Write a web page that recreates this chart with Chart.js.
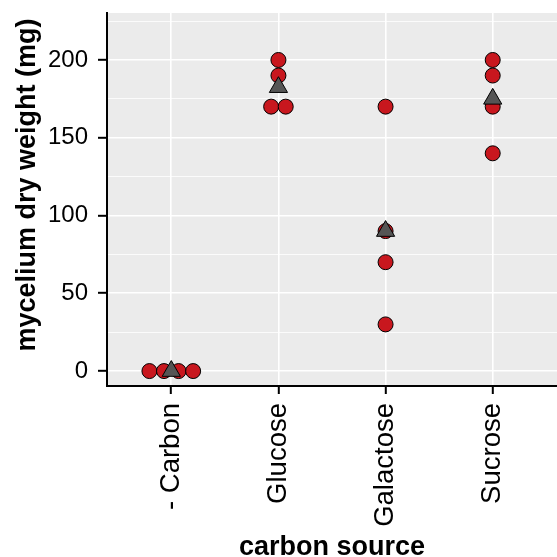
<!DOCTYPE html>
<html>
<head>
<meta charset="utf-8">
<script src="https://cdn.jsdelivr.net/npm/chart.js@4"></script>
<style>
  html, body { margin: 0; padding: 0; background: #fff; }
  #wrap { width: 557px; height: 557px; }
</style>
</head>
<body>
<div id="wrap"><canvas id="graph"></canvas></div>
<script>
const categories = ['- Carbon', 'Glucose', 'Galactose', 'Sucrose'];
const carbonFree = [0, 0, 0, 0];
const glucose = [200, 190, 170, 170];
const galactose = [170, 90, 70, 30];
const sucrose = [200, 190, 170, 140];
const yTicks = [0, 50, 100, 150, 200];

const groups = [carbonFree, glucose, galactose, sucrose];

// spread repeated values side by side, like the dot stacking in the original
function spread(values, idx) {
  const out = [];
  const seen = {};
  values.forEach(v => { seen[v] = (seen[v] || 0) + 1; });
  const used = {};
  values.forEach(v => {
    const n = seen[v];
    const k = used[v] || 0;
    used[v] = k + 1;
    out.push({ x: idx + (k - (n - 1) / 2) * 0.136, y: v });
  });
  return out;
}

const points = [];
groups.forEach((g, i) => points.push(...spread(g, i)));
const means = groups.map((g, i) => ({ x: i, y: g.reduce((a, b) => a + b, 0) / g.length }));

const font = "'Liberation Sans', Arial, sans-serif";

const panelBg = {
  id: 'panelBg',
  beforeDraw(chart) {
    const a = chart.chartArea;
    const ctx = chart.ctx;
    ctx.save();
    ctx.fillStyle = '#ebebeb';
    ctx.fillRect(a.left, a.top, a.right - a.left, a.bottom - a.top);
    ctx.restore();
  },
  afterDraw(chart) {
    // y title, placed like the ggplot original
    const ctx = chart.ctx;
    ctx.save();
    ctx.translate(28, 185);
    ctx.rotate(-Math.PI / 2);
    ctx.font = 'bold 27px ' + font;
    ctx.fillStyle = '#000';
    ctx.textAlign = 'center';
    ctx.textBaseline = 'middle';
    ctx.fillText('mycelium dry weight (mg)', 0, 0);
    ctx.restore();
  }
};

const config = {
  type: 'scatter',
  data: {
    datasets: [
      {
        label: 'mean',
        data: means,
        pointStyle: 'triangle',
        pointRadius: 10.5,
        pointHoverRadius: 10.5,
        backgroundColor: '#555555',
        borderColor: '#000000',
        borderWidth: 1,
        order: 0
      },
      {
        label: 'replicates',
        data: points,
        pointStyle: 'circle',
        pointRadius: 7.5,
        pointHoverRadius: 7.5,
        backgroundColor: '#c8171e',
        borderColor: '#000000',
        borderWidth: 1,
        order: 1
      }
    ]
  },
  options: {
    responsive: true,
    maintainAspectRatio: false,
    animation: false,
    layout: { autoPadding: false, padding: { top: 13, left: 0, right: 0, bottom: 0 } },
    plugins: { legend: { display: false }, tooltip: { enabled: false } },
    scales: {
      x: {
        type: 'linear',
        min: -0.6,
        max: 3.6,
        afterBuildTicks: s => { s.ticks = categories.map((c, i) => ({ value: i })); },
        afterFit: s => { s.height = 171; s.paddingLeft = 0; s.paddingRight = 0; },
        border: { display: true, color: '#000', width: 2 },
        grid: { color: '#ffffff', lineWidth: 1.6, tickLength: 8, tickColor: '#000', tickWidth: 2 },
        ticks: {
          callback: v => categories[v],
          maxRotation: 90,
          minRotation: 90,
          padding: 9,
          color: '#000',
          font: { family: font, size: 27.5 }
        },
        title: {
          display: true,
          text: 'carbon source',
          color: '#000',
          padding: { top: 0, bottom: -4 },
          font: { family: font, size: 27, weight: 'bold', lineHeight: 1 }
        }
      },
      y: {
        min: -9.6,
        max: 230.2,
        afterBuildTicks: s => {
          const t = [];
          for (let v = 0; v <= 225; v += 25) t.push({ value: v });
          s.ticks = t;
        },
        afterFit: s => { s.width = 107; s.paddingTop = 0; s.paddingBottom = 0; },
        border: { display: true, color: '#000', width: 2 },
        grid: {
          color: '#ffffff',
          lineWidth: c => (yTicks.includes(c.tick.value) ? 1.6 : 0.8),
          tickLength: 9,
          tickWidth: 2,
          tickColor: c => (yTicks.includes(c.tick.value) ? '#000' : 'rgba(0,0,0,0)')
        },
        ticks: {
          callback: v => (yTicks.includes(v) ? String(v) : ''),
          padding: 10,
          color: '#000',
          font: { family: font, size: 24 }
        }
      }
    }
  },
  plugins: [panelBg]
};

const myChart = new Chart(document.getElementById('graph'), config);
</script>
</body>
</html>
